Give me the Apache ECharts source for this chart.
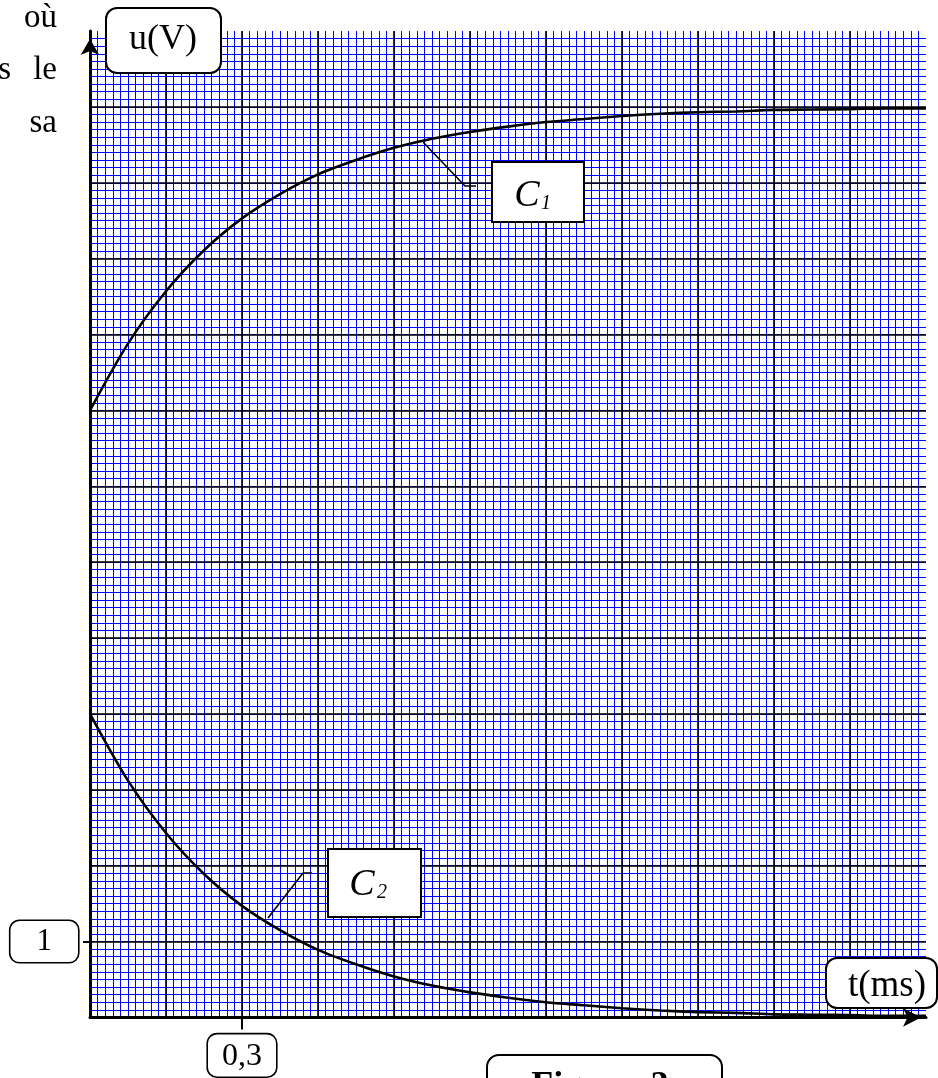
<!DOCTYPE html>
<html>
<head>
<meta charset="utf-8">
<script src="https://cdn.jsdelivr.net/npm/echarts@6/dist/echarts.min.js"></script>
<style>
  html, body { margin: 0; padding: 0; background: #fff; }
  #chart { width: 938px; height: 1078px; }
</style>
</head>
<body>
<div id="chart"></div>
<script>
// t en ms, relevé tous les 0,075 ms (une demi-grande division)
const times = [0, 0.075, 0.15, 0.225, 0.3, 0.375, 0.45, 0.525, 0.6, 0.675, 0.75, 0.825,
  0.9, 0.975, 1.05, 1.125, 1.2, 1.275, 1.35, 1.425, 1.5, 1.575, 1.65];
// courbe C1 (u en V)
const c1Values = [8.0, 8.88, 9.57, 10.11, 10.53, 10.85, 11.11, 11.3, 11.46, 11.58, 11.67, 11.74,
  11.8, 11.84, 11.88, 11.91, 11.93, 11.94, 11.96, 11.965, 11.97, 11.98, 11.98];
// courbe C2 (u en V)
const c2Values = [4.0, 3.12, 2.43, 1.89, 1.47, 1.15, 0.89, 0.7, 0.54, 0.42, 0.33, 0.26,
  0.2, 0.16, 0.12, 0.09, 0.07, 0.06, 0.04, 0.035, 0.03, 0.02, 0.02];
// graduations marquées
const yMarked = [1];
const xMarked = [0.3];

const serif = 'Liberation Serif';
const blue = '#0000ff';
const chart = echarts.init(document.getElementById('chart'));

const hidden = { axisLine: { show: false }, axisTick: { show: false }, axisLabel: { show: false } };
const boxLabel = {
  fontFamily: serif, color: '#000',
  backgroundColor: '#fff', borderColor: '#000', borderWidth: 1.6, borderRadius: 9
};

chart.setOption({
  animation: false,
  backgroundColor: '#fff',
  grid: { left: 90, right: 12, top: 31, bottom: 60 },
  xAxis: [
    // quadrillage millimétré
    Object.assign({
      type: 'value', min: 0, max: 1.65, interval: 0.015, position: 'top', z: 1,
      splitLine: { show: true, showMinLine: false, showMaxLine: false, lineStyle: { color: blue, width: 1 } }
    }, hidden),
    // grandes divisions + axe
    {
      type: 'value', min: 0, max: 1.65, interval: 0.15, position: 'bottom', z: 3,
      axisLine: {
        lineStyle: { color: '#000', width: 3 },
        symbol: ['none', 'arrow'], symbolSize: [14, 18], symbolOffset: [0, -5]
      },
      axisTick: { show: false }, axisLabel: { show: false },
      splitLine: { show: true, showMaxLine: false, lineStyle: { color: '#000', width: 1.6 } }
    },
    // graduation 0,3
    {
      type: 'value', min: 0, max: 1.65, position: 'bottom', z: 4,
      axisLine: { show: false },
      axisTick: { show: true, customValues: xMarked, length: 12, inside: false,
        lineStyle: { color: '#000', width: 2 } },
      axisLabel: Object.assign({}, boxLabel, {
        customValues: xMarked, margin: 17, fontSize: 32, padding: [6, 14, 4, 14],
        formatter: v => String(v).replace('.', ',')
      }),
      splitLine: { show: false }
    }
  ],
  yAxis: [
    Object.assign({
      type: 'value', min: 0, max: 13, interval: 0.1, position: 'right', z: 1,
      splitLine: { show: true, showMinLine: false, showMaxLine: false, lineStyle: { color: blue, width: 1 } }
    }, hidden),
    {
      type: 'value', min: 0, max: 13, interval: 1, position: 'left', z: 3,
      axisLine: {
        lineStyle: { color: '#000', width: 3 },
        symbol: ['none', 'arrow'], symbolSize: [14, 16], symbolOffset: [0, -8]
      },
      axisTick: { show: false }, axisLabel: { show: false },
      splitLine: { show: true, showMaxLine: false, lineStyle: { color: '#000', width: 1.6 } }
    },
    // graduation 1
    {
      type: 'value', min: 0, max: 13, position: 'left', z: 4,
      axisLine: { show: false },
      axisTick: { show: true, customValues: yMarked, length: 7, inside: false,
        lineStyle: { color: '#000', width: 2 } },
      axisLabel: Object.assign({}, boxLabel, {
        customValues: yMarked, margin: 12, fontSize: 31, padding: [6, 26, 4, 26]
      }),
      splitLine: { show: false }
    }
  ],
  series: [
    {
      name: 'C1', type: 'line', xAxisIndex: 1, yAxisIndex: 1, z: 5,
      data: times.map((t, i) => [t, c1Values[i]]),
      smooth: 0.3, showSymbol: false,
      lineStyle: { color: '#000', width: 2.6 }
    },
    {
      name: 'C2', type: 'line', xAxisIndex: 1, yAxisIndex: 1, z: 5,
      data: times.map((t, i) => [t, c2Values[i]]),
      smooth: 0.3, showSymbol: false,
      lineStyle: { color: '#000', width: 2.6 }
    }
  ],
  graphic: [
    // fragments du texte de l'énoncé
    { type: 'text', z: 100, x: 57, y: 18, style: { text: 'où', font: '33px ' + serif, fill: '#000', align: 'right', verticalAlign: 'middle' } },
    { type: 'text', z: 100, x: 57, y: 70, style: { text: 'le', font: '33px ' + serif, fill: '#000', align: 'right', verticalAlign: 'middle' } },
    { type: 'text', z: 100, x: 11, y: 70, style: { text: 's', font: '33px ' + serif, fill: '#000', align: 'right', verticalAlign: 'middle' } },
    { type: 'text', z: 100, x: 57, y: 123, style: { text: 'sa', font: '33px ' + serif, fill: '#000', align: 'right', verticalAlign: 'middle' } },

    // u(V)
    { type: 'rect', z: 100, shape: { x: 106, y: 8, width: 115, height: 65, r: 11 },
      style: { fill: '#fff', stroke: '#000', lineWidth: 2 } },
    { type: 'text', z: 101, x: 163, y: 40, style: { text: 'u(V)', font: '36px ' + serif, fill: '#000', align: 'center', verticalAlign: 'middle' } },

    // t(ms)
    { type: 'rect', z: 100, shape: { x: 826, y: 958, width: 111, height: 50, r: 11 },
      style: { fill: '#fff', stroke: '#000', lineWidth: 2 } },
    { type: 'text', z: 101, x: 887, y: 986, style: { text: 't(ms)', font: '37px ' + serif, fill: '#000', align: 'center', verticalAlign: 'middle' } },

    // C1
    { type: 'polyline', z: 100, shape: { points: [[423, 142], [465, 186], [476, 186]] },
      style: { stroke: '#000', lineWidth: 1.6, fill: null } },
    { type: 'rect', z: 100, shape: { x: 492, y: 162, width: 92, height: 60 },
      style: { fill: '#fff', stroke: '#000', lineWidth: 2 } },
    { type: 'text', z: 101, x: 527, y: 196, style: { text: 'C', font: 'italic 38px ' + serif, fill: '#000', align: 'center', verticalAlign: 'middle' } },
    { type: 'text', z: 101, x: 546, y: 204, style: { text: '1', font: 'italic 20px ' + serif, fill: '#000', align: 'center', verticalAlign: 'middle' } },

    // C2
    { type: 'polyline', z: 100, shape: { points: [[268, 918], [303, 873], [312, 873]] },
      style: { stroke: '#000', lineWidth: 1.6, fill: null } },
    { type: 'rect', z: 100, shape: { x: 328, y: 849, width: 93, height: 68 },
      style: { fill: '#fff', stroke: '#000', lineWidth: 2 } },
    { type: 'text', z: 101, x: 362, y: 885, style: { text: 'C', font: 'italic 38px ' + serif, fill: '#000', align: 'center', verticalAlign: 'middle' } },
    { type: 'text', z: 101, x: 382, y: 893, style: { text: '2', font: 'italic 20px ' + serif, fill: '#000', align: 'center', verticalAlign: 'middle' } },

    // Figure 3 (coupée en bas)
    { type: 'rect', z: 100, shape: { x: 487, y: 1055, width: 235, height: 60, r: 12 },
      style: { fill: '#fff', stroke: '#000', lineWidth: 2 } },
    { type: 'text', z: 101, x: 600, y: 1069, style: { text: 'Figure  3', font: 'bold 36px ' + serif, fill: '#000', align: 'center', verticalAlign: 'top' } }
  ]
});
</script>
</body>
</html>
